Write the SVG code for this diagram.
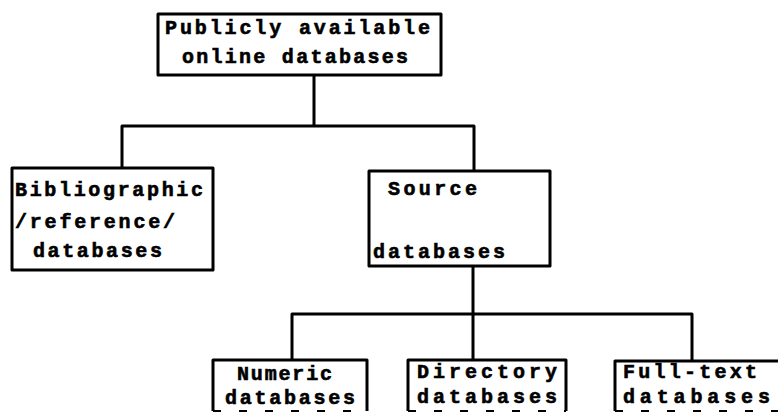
<svg xmlns="http://www.w3.org/2000/svg" width="778" height="420" viewBox="0 0 778 420">
<style>
  .box{fill:none;stroke:#000;stroke-width:3;stroke-linejoin:round}
  .btm{fill:none;stroke:#000;stroke-width:2;stroke-dasharray:8 18}
  .conn{fill:none;stroke:#000;stroke-width:3;stroke-linejoin:round}
  text{font-family:"Liberation Mono","DejaVu Sans Mono",monospace;font-weight:bold;font-size:20px;fill:#000;stroke:#000;stroke-width:0.6}
</style>
<rect width="778" height="420" fill="#fff"/>
<g id="connectors">
  <path class="conn" d="M314,75 V126 M122,168 V126 H474 V171"/>
  <path class="conn" d="M473,266 V314 M292,360 V314 H692 V360 M473,314 V360"/>
</g>
<g id="root">
  <rect class="box" x="158" y="14" width="283" height="61"/>
  <text x="165" y="34" textLength="265" lengthAdjust="spacing">Publicly available</text>
  <text x="182" y="63" textLength="226" lengthAdjust="spacing">online databases</text>
</g>
<g id="bibliographic">
  <rect class="box" x="12" y="168" width="201" height="102"/>
  <text x="15" y="196" textLength="188" lengthAdjust="spacing">Bibliographic</text>
  <text x="15" y="228" textLength="160" lengthAdjust="spacing">/reference/</text>
  <text x="33" y="257" textLength="129" lengthAdjust="spacing">databases</text>
</g>
<g id="source">
  <rect class="box" x="369" y="171" width="181" height="95"/>
  <text x="388" y="195" textLength="89" lengthAdjust="spacing">Source</text>
  <text x="373" y="258" textLength="132" lengthAdjust="spacing">databases</text>
</g>
<g id="numeric">
  <path class="box" d="M213,411 V360 H367 V411"/>
  <path class="btm" d="M213,411 H367"/>
  <text x="237" y="380" textLength="95" lengthAdjust="spacing">Numeric</text>
  <text x="225" y="404" textLength="130" lengthAdjust="spacing">databases</text>
</g>
<g id="directory">
  <path class="box" d="M408,411 V360 H566 V411"/>
  <path class="btm" d="M408,411 H566"/>
  <text x="417" y="378" textLength="140" lengthAdjust="spacing">Directory</text>
  <text x="417" y="403" textLength="140" lengthAdjust="spacing">databases</text>
</g>
<g id="fulltext">
  <path class="box" d="M615,411 V361 H780"/>
  <path class="btm" d="M615,411 H780"/>
  <text x="623" y="378" textLength="134" lengthAdjust="spacing">Full-text</text>
  <text x="623" y="403" textLength="147" lengthAdjust="spacing">databases</text>
</g>
</svg>
